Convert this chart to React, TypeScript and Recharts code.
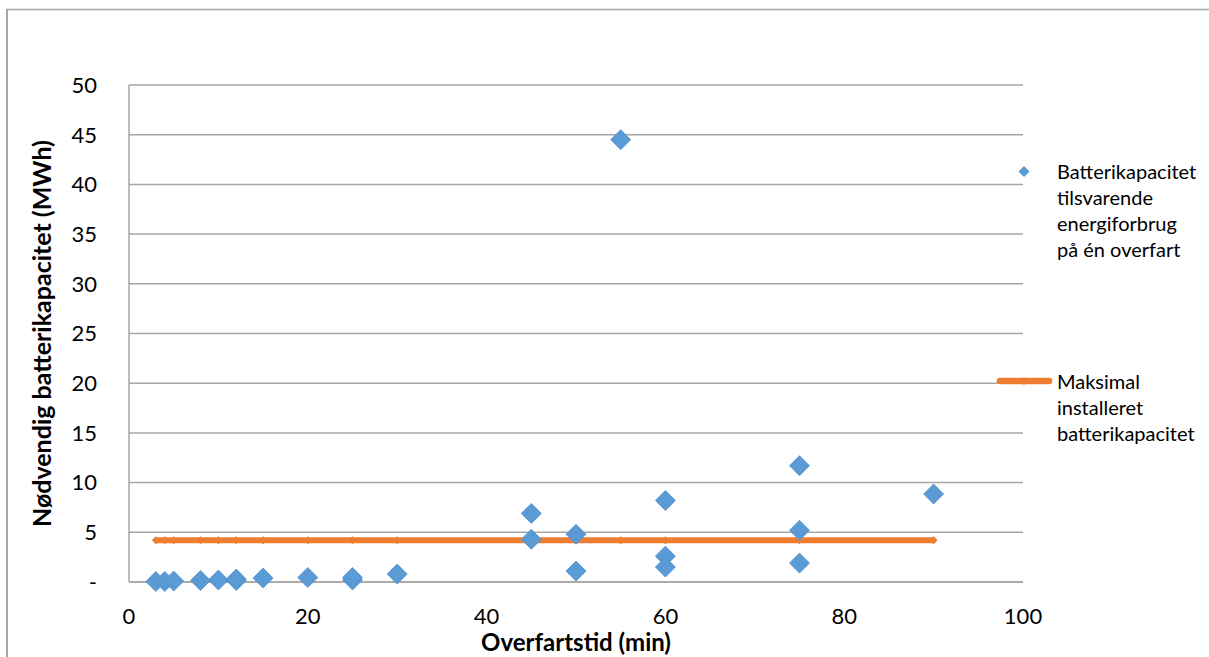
import React from "react";
import {
  ComposedChart,
  Scatter,
  Line,
  XAxis,
  YAxis,
  CartesianGrid,
} from "recharts";

// crossing times (min) and required battery capacity (MWh)
const crossingMinutes = [3, 4, 5, 8, 10, 12, 12, 15, 20, 25, 25, 30, 45, 45, 50, 50, 55, 60, 60, 60, 75, 75, 75, 90];
const capacityMWh = [0.05, 0.05, 0.1, 0.15, 0.2, 0.15, 0.3, 0.4, 0.45, 0.2, 0.45, 0.8, 6.9, 4.3, 4.8, 1.1, 44.5, 8.2, 2.6, 1.5, 11.7, 5.2, 1.9, 8.85];

// installed maximum, drawn as a flat line over the same crossing times
const lineMinutes = [3, 4, 5, 8, 10, 12, 15, 20, 25, 30, 45, 50, 55, 60, 75, 90];
const maxInstalledMWh = 4.2;

const xTicks = [0, 20, 40, 60, 80, 100];
const yTicks = [0, 5, 10, 15, 20, 25, 30, 35, 40, 45, 50];

const scatterData = crossingMinutes.map((x, i) => ({ x, y: capacityMWh[i] }));
const lineData = lineMinutes.map((x) => ({ x, y: maxInstalledMWh }));

const BLUE = "#5b9bd5";
const ORANGE = "#ed7d31";
const GRID = "#a6a6a6";
const FONT = "Lato, 'Liberation Sans', sans-serif";

const Diamond = (props: any) => {
  const { cx, cy } = props;
  const r = 10;
  return (
    <path
      d={`M${cx},${cy - r} L${cx + r},${cy} L${cx},${cy + r} L${cx - r},${cy} Z`}
      fill={BLUE}
      stroke="#4f8fcb"
      strokeWidth={0.8}
    />
  );
};

const SmallDiamond = (props: any) => {
  const { cx, cy, index } = props;
  const r = 4;
  return (
    <path
      key={index}
      d={`M${cx},${cy - r} L${cx + r},${cy} L${cx},${cy + r} L${cx - r},${cy} Z`}
      fill={ORANGE}
    />
  );
};

const legendText: React.CSSProperties = {
  position: "absolute",
  fontFamily: FONT,
  fontSize: 20,
  lineHeight: "26px",
  color: "#000",
  whiteSpace: "nowrap",
};

export default function App() {
  return (
    <div
      style={{
        position: "absolute",
        left: 0,
        top: 0,
        width: 1209,
        height: 657,
        overflow: "hidden",
        background: "#fff",
      }}
    >
      <div style={{ position: "absolute", left: 0, top: 0 }}>
        <ComposedChart
          width={1209}
          height={657}
          margin={{ top: 85, right: 186, bottom: 0, left: 0 }}
        >
          <CartesianGrid vertical={false} stroke={GRID} strokeWidth={1.5} />
          <XAxis
            type="number"
            dataKey="x"
            domain={[0, 100]}
            ticks={xTicks}
            height={75}
            tickLine={false}
            tickSize={8}
            tickMargin={18}
            axisLine={{ stroke: GRID, strokeWidth: 1.5 }}
            tick={{ fill: "#000", fontSize: 22, fontFamily: FONT }}
            label={{
              value: "Overfartstid (min)",
              position: "insideBottom",
              offset: 6,
              fill: "#000",
              fontSize: 24,
              fontWeight: "bold",
              fontFamily: FONT,
            }}
          />
          <YAxis
            type="number"
            dataKey="y"
            domain={[0, 50]}
            ticks={yTicks}
            width={129}
            tickLine={false}
            tickSize={8}
            tickMargin={24}
            axisLine={{ stroke: GRID, strokeWidth: 1.5 }}
            tick={{ fill: "#000", fontSize: 22, fontFamily: FONT }}
            tickFormatter={(v: number) => (v === 0 ? "-" : String(v))}
            label={{
              value: "Nødvendig batterikapacitet (MWh)",
              angle: -90,
              position: "insideLeft",
              offset: 42,
              style: { textAnchor: "middle" },
              fill: "#000",
              fontSize: 25,
              fontWeight: "bold",
              fontFamily: FONT,
            }}
          />
          <Line
            data={lineData}
            dataKey="y"
            stroke={ORANGE}
            strokeWidth={6}
            dot={<SmallDiamond />}
            activeDot={false}
            isAnimationActive={false}
          />
          <Scatter
            data={scatterData}
            dataKey="y"
            shape={<Diamond />}
            isAnimationActive={false}
          />
        </ComposedChart>
      </div>

      {/* outer chart frame, runs off the right and bottom edges */}
      <svg
        style={{ position: "absolute", left: 0, top: 0, pointerEvents: "none" }}
        width={1209}
        height={657}
      >
        <line x1={7} y1={9.5} x2={1209} y2={9.5} stroke={GRID} strokeWidth={1.5} />
        <line x1={7} y1={9} x2={7} y2={657} stroke={GRID} strokeWidth={2} />
      </svg>

      {/* legend */}
      <svg
        style={{ position: "absolute", left: 990, top: 160 }}
        width={70}
        height={240}
      >
        <path d="M34,6 L39.5,11.5 L34,17 L28.5,11.5 Z" fill={BLUE} />
        <line x1={10} y1={221} x2={59} y2={221} stroke={ORANGE} strokeWidth={6.5} strokeLinecap="round" />
        <path d="M34,217 L38,221 L34,225 L30,221 Z" fill={ORANGE} />
      </svg>
      <div style={{ ...legendText, left: 1057, top: 158 }}>
        Batterikapacitet
        <br />
        tilsvarende
        <br />
        energiforbrug
        <br />
        på én overfart
      </div>
      <div style={{ ...legendText, left: 1057, top: 368 }}>
        Maksimal
        <br />
        installeret
        <br />
        batterikapacitet
      </div>
    </div>
  );
}
